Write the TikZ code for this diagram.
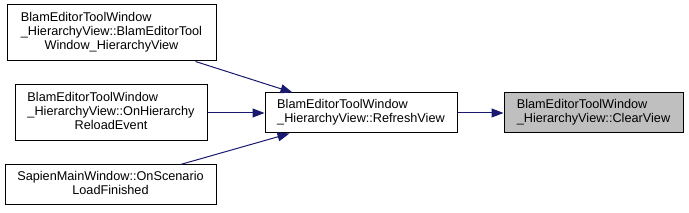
\documentclass[tikz,border=0pt]{standalone}
\usepackage{fontspec}
\setmainfont{Liberation Sans}
\usetikzlibrary{arrows.meta,calc}
\definecolor{edgeblue}{HTML}{191970}
\definecolor{nodegray}{HTML}{BFBFBF}
\newcommand{\lastline}[1]{\multicolumn{1}{@{}c@{}}{#1}}
\begin{document}
\begin{tikzpicture}[x=1pt,y=-1pt,
  fn/.style={draw=black,line width=1pt,fill=white,inner sep=0pt,
    font=\fontsize{12.7}{14}\selectfont},
  edge/.style={draw=edgeblue,line width=1pt,-{Triangle[length=12pt,width=9pt]}}]
\useasboundingbox (0,0) rectangle (689,213);
\node[fn,minimum width=209pt,minimum height=56pt] (A) at (111.5,33)
  {\begin{tabular}{@{}l@{}}BlamEditorToolWindow\\\_HierarchyView::BlamEditorTool\\\lastline{Window\_HierarchyView}\end{tabular}};
\node[fn,minimum width=192pt,minimum height=56pt] (B) at (111,113)
  {\begin{tabular}{@{}l@{}}BlamEditorToolWindow\\\_HierarchyView::OnHierarchy\\\lastline{ReloadEvent}\end{tabular}};
\node[fn,minimum width=211pt,minimum height=40pt] (C) at (110.5,185)
  {\begin{tabular}{@{}l@{}}SapienMainWindow::OnScenario\\\lastline{LoadFinished}\end{tabular}};
\node[fn,minimum width=192pt,minimum height=40pt] (D) at (361,113)
  {\begin{tabular}{@{}l@{}}BlamEditorToolWindow\\\_HierarchyView::RefreshView\end{tabular}};
\node[fn,fill=nodegray,minimum width=179pt,minimum height=40pt] (E) at (593.5,113)
  {\begin{tabular}{@{}l@{}}BlamEditorToolWindow\\\_HierarchyView::ClearView\end{tabular}};
\draw[edge] ($(A.south west)+(189,0)$) -- ($(D.north west)+(28,0)$);
\draw[edge] (B.east) -- (D.west);
\draw[edge] ($(C.north west)+(176,0)$) -- ($(D.south west)+(25,0)$);
\draw[edge] (D.east) -- (E.west);
\end{tikzpicture}
\end{document}
